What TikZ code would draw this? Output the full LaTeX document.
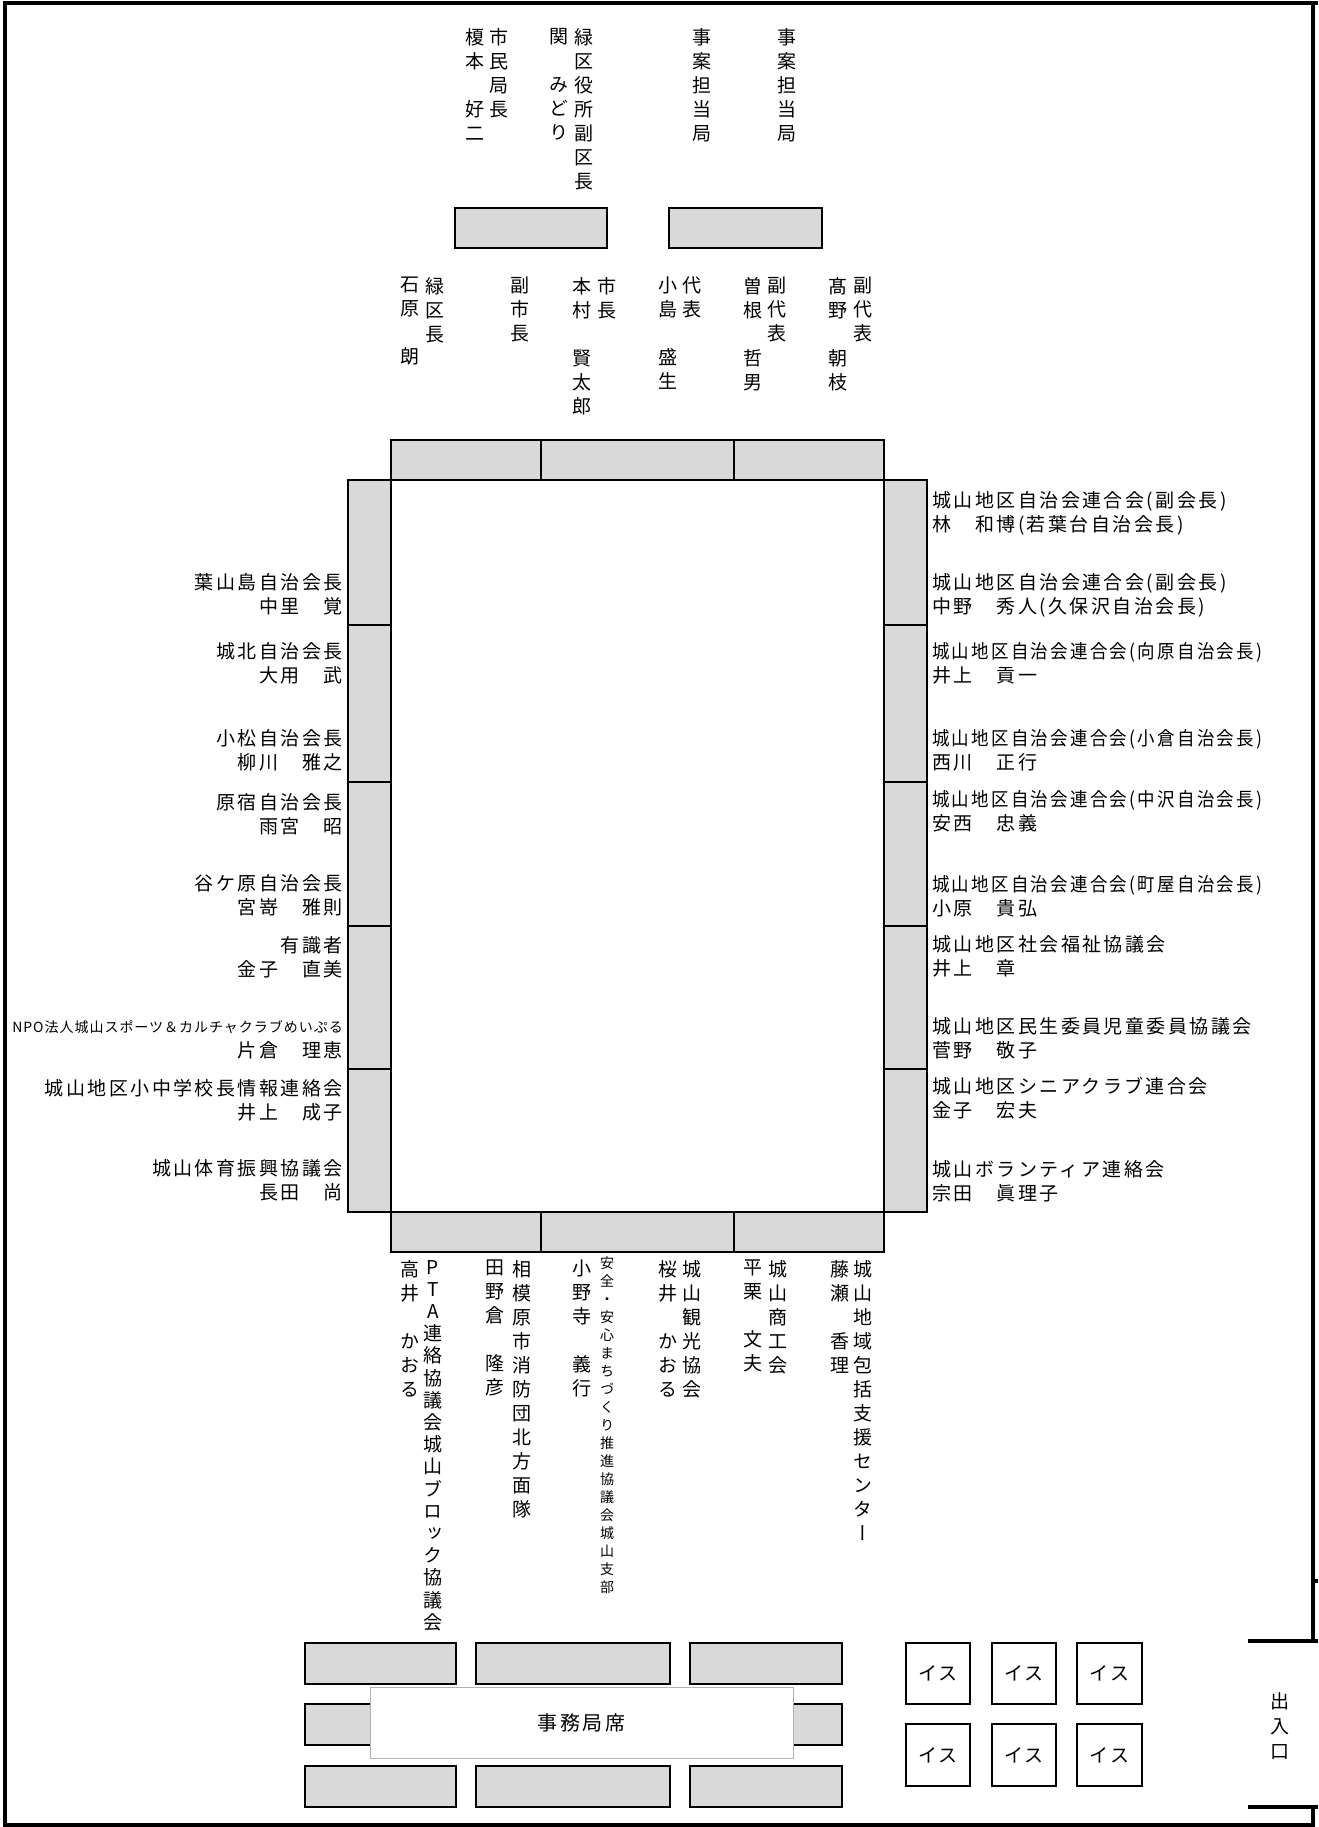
\documentclass[tikz,border=0pt]{standalone}
\usepackage{fontspec}
\newfontfamily\jp{Noto Sans CJK JP}[LetterSpace=13]
\newfontfamily\jps{Noto Sans CJK JP}[LetterSpace=7]
\newfontfamily\jpv{Noto Sans CJK JP}[RawFeature=+vert]
\definecolor{tbl}{RGB}{217,217,217}
\def\zs{}
\def\myvtl#1{\ifx\relax#1\else\hbox to 20pt{\hss#1\hss}\expandafter\myvtl\fi}
\newcommand\myvt[3]{\vbox{\jpv\fontsize{#1}{#2}\selectfont\baselineskip=#2pt\relax\lineskiplimit=-50pt\relax\myvtl#3\relax}}
\newcommand\squeeze[1]{\scalebox{0.92}[1]{#1}}
\begin{document}
\begin{tikzpicture}[x=1pt,y=-1pt,
  tbox/.style={draw=black, line width=1.4pt, fill=tbl},
  chair/.style={draw=black, line width=1.3pt, fill=white, inner sep=0pt, font=\jp\fontsize{19}{24}\selectfont},
  wall/.style={line width=4.5pt, draw=black},
  vlab/.style={inner sep=0pt, anchor=north},
  llab/.style={inner sep=0pt, anchor=east, align=right, font=\jp\fontsize{19}{24}\selectfont},
  rlab/.style={inner sep=0pt, anchor=west, align=left, font=\jp\fontsize{19}{24}\selectfont},
]
\useasboundingbox (0,0) rectangle (1318,1827);

% walls
\draw[wall] (1318,3) -- (5,3) -- (5,1827);
\draw[wall] (1313,3) -- (1313,1643);
\draw[wall] (1313,1581) -- (1318,1581);
\draw[wall] (1248,1641) -- (1318,1641);
\draw[wall] (1248,1807) -- (1318,1807);
\draw[wall] (1313,1807) -- (1313,1827);
\draw[wall] (5,1825) -- (1313,1825);

% top small tables
\draw[tbox] (455,208) rectangle (607,248);
\draw[tbox] (669,208) rectangle (822,248);

% main table
\draw[tbox] (391,440) rectangle (541,480);
\draw[tbox] (541,440) rectangle (734,480);
\draw[tbox] (734,440) rectangle (884,480);
\draw[tbox] (391,1212) rectangle (541,1252);
\draw[tbox] (541,1212) rectangle (734,1252);
\draw[tbox] (734,1212) rectangle (884,1252);
\foreach \a/\b in {480/625,625/782,782/926,926/1069,1069/1212}{
  \draw[tbox] (348,\a) rectangle (391,\b);
  \draw[tbox] (884,\a) rectangle (927,\b);
}

% secretariat tables
\foreach \y in {1643,1704,1766}{
  \draw[tbox] (305,\y) rectangle (456,\y+41);
  \draw[tbox] (476,\y) rectangle (670,\y+41);
  \draw[tbox] (690,\y) rectangle (842,\y+41);
}
\node[draw=black!30, line width=1pt, fill=white, minimum width=423pt, minimum height=71pt, inner sep=0pt, font=\jp\fontsize{20}{24}\selectfont] (jim) at (581.5,1722.5) {事務局席};

% chairs
\node[chair, minimum width=64pt, minimum height=61pt] (c1) at (938,1673.5) {イス};
\node[chair, minimum width=64pt, minimum height=61pt] (c2) at (1024,1673.5) {イス};
\node[chair, minimum width=65pt, minimum height=61pt] (c3) at (1109.5,1673.5) {イス};
\node[chair, minimum width=64pt, minimum height=62pt] (c4) at (938,1755) {イス};
\node[chair, minimum width=64pt, minimum height=62pt] (c5) at (1024,1755) {イス};
\node[chair, minimum width=65pt, minimum height=62pt] (c6) at (1109.5,1755) {イス};

% entrance
\node[vlab] (exit) at (1280,1692) {\myvt{19}{25}{出入口}};

% top vertical labels
\node[vlab] (a1) at (475,28) {\myvt{19}{24}{榎本\zs 好二}};
\node[vlab] (a2) at (499,28) {\myvt{19}{24}{市民局長}};
\node[vlab] (a3) at (559,28) {\myvt{19}{24}{関\zs みどり}};
\node[vlab] (a4) at (584,28) {\myvt{19}{24}{緑区役所副区長}};
\node[vlab] (a5) at (702,28) {\myvt{19}{24}{事案担当局}};
\node[vlab] (a6) at (787,28) {\myvt{19}{24}{事案担当局}};

\node[vlab] (b1) at (410,277) {\myvt{19}{24}{石原\zs 朗}};
\node[vlab] (b2) at (435,277) {\myvt{19}{24}{緑区長}};
\node[vlab] (b3) at (520,277) {\myvt{19}{24}{副市長}};
\node[vlab] (b4) at (582,277) {\myvt{19}{24}{本村\zs 賢太郎}};
\node[vlab] (b5) at (607,277) {\myvt{19}{24}{市長}};
\node[vlab] (b6) at (668,277) {\myvt{19}{24}{小島\zs 盛生}};
\node[vlab] (b7) at (692,277) {\myvt{19}{24}{代表}};
\node[vlab] (b8) at (753,277) {\myvt{19}{24}{曽根\zs 哲男}};
\node[vlab] (b9) at (777,277) {\myvt{19}{24}{副代表}};
\node[vlab] (b10) at (838,277) {\myvt{19}{24}{髙野\zs 朝枝}};
\node[vlab] (b11) at (863,277) {\myvt{19}{24}{副代表}};

% bottom vertical labels
\node[vlab] (d1) at (410,1260) {\myvt{19}{24}{高井\zs かおる}};
\node[vlab] (d2) at (433,1260) {\myvt{19}{22.2}{PTA連絡協議会城山ブロック協議会}};
\node[vlab] (d3) at (495,1260) {\myvt{19}{24}{田野倉\zs 隆彦}};
\node[vlab] (d4) at (522,1260) {\myvt{19}{24}{相模原市消防団北方面隊}};
\node[vlab] (d5) at (582,1260) {\myvt{19}{24}{小野寺\zs 義行}};
\node[vlab] (d6) at (607,1257) {\myvt{14}{18}{安全・安心まちづくり推進協議会城山支部}};
\node[vlab] (d7) at (668,1260) {\myvt{19}{24}{桜井\zs かおる}};
\node[vlab] (d8) at (692,1260) {\myvt{19}{24}{城山観光協会}};
\node[vlab] (d9) at (753,1260) {\myvt{19}{24}{平栗\zs 文夫}};
\node[vlab] (d10) at (778,1260) {\myvt{19}{24}{城山商工会}};
\node[vlab] (d11) at (840,1260) {\myvt{19}{24}{藤瀬\zs 香理}};
\node[vlab] (d12) at (863,1260) {\myvt{19}{24}{城山地域包括支援センター}};

% left labels
\node[llab] (l1) at (343,594.5) {葉山島自治会長\\中里　覚};
\node[llab] (l2) at (343,663.5) {城北自治会長\\大用　武};
\node[llab] (l3) at (343,750.5) {小松自治会長\\柳川　雅之};
\node[llab] (l4) at (343,814) {原宿自治会長\\雨宮　昭};
\node[llab] (l5) at (343,895.5) {谷ケ原自治会長\\宮嵜　雅則};
\node[llab] (l6) at (343,957.5) {有識者\\金子　直美};
\node[inner sep=0pt, anchor=east, font=\jps\fontsize{14}{18}\selectfont] (l7a) at (343,1027) {NPO法人城山スポーツ＆カルチャクラブめいぷる};
\node[inner sep=0pt, anchor=east, font=\jp\fontsize{19}{24}\selectfont] (l7b) at (343,1050) {片倉　理恵};
\node[llab] (l8) at (343,1100) {城山地区小中学校長情報連絡会\\井上　成子};
\node[llab] (l9) at (343,1180.5) {城山体育振興協議会\\長田　尚};

% right labels
\node[rlab] (r1) at (932,513) {城山地区自治会連合会(副会長)\\林　和博(若葉台自治会長)};
\node[rlab] (r2) at (932,595) {城山地区自治会連合会(副会長)\\中野　秀人(久保沢自治会長)};
\node[rlab] (r3) at (932,663) {\squeeze{城山地区自治会連合会(向原自治会長)}\\井上　貢一};
\node[rlab] (r4) at (932,750) {\squeeze{城山地区自治会連合会(小倉自治会長)}\\西川　正行};
\node[rlab] (r5) at (932,811) {\squeeze{城山地区自治会連合会(中沢自治会長)}\\安西　忠義};
\node[rlab] (r6) at (932,896.5) {\squeeze{城山地区自治会連合会(町屋自治会長)}\\小原　貴弘};
\node[rlab] (r7) at (932,956.5) {城山地区社会福祉協議会\\井上　章};
\node[rlab] (r8) at (932,1038.5) {城山地区民生委員児童委員協議会\\菅野　敬子};
\node[rlab] (r9) at (932,1098.5) {城山地区シニアクラブ連合会\\金子　宏夫};
\node[rlab] (r10) at (932,1181) {城山ボランティア連絡会\\宗田　眞理子};
\end{tikzpicture}
\end{document}
